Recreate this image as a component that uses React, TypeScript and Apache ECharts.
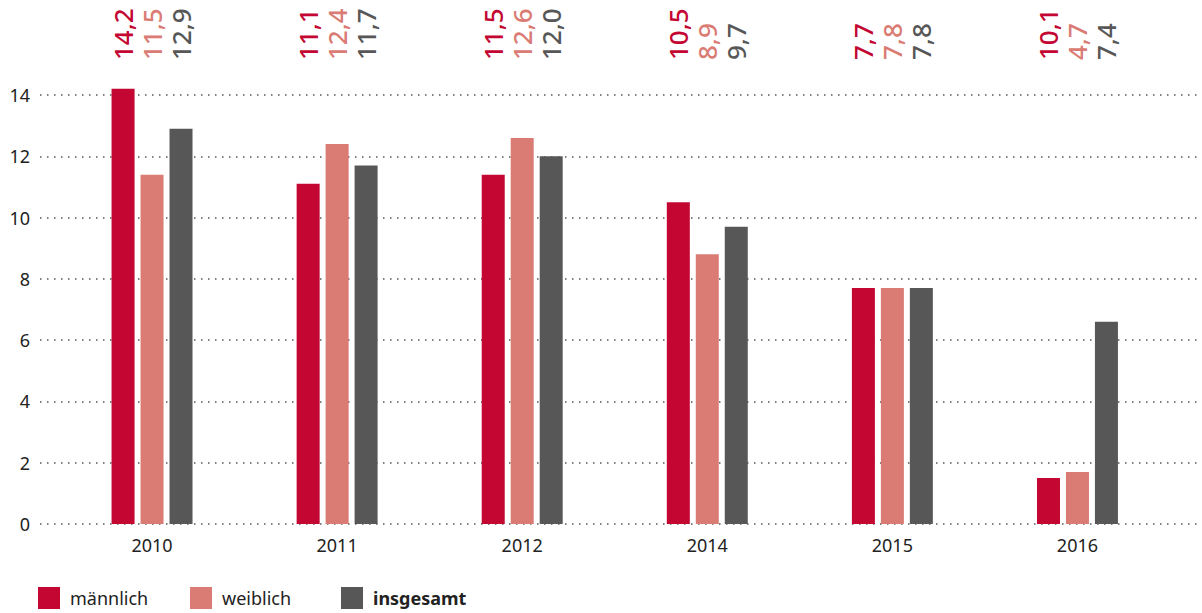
import React, { useEffect, useRef } from "react";
import * as echarts from "echarts";

const categories = ["2010", "2011", "2012", "2014", "2015", "2016"];
const maleValues = [14.2, 11.1, 11.4, 10.5, 7.7, 1.5];
const femaleValues = [11.4, 12.4, 12.6, 8.8, 7.7, 1.7];
const totalValues = [12.9, 11.7, 12.0, 9.7, 7.7, 6.6];
const maleLabels = ["14,2", "11,1", "11,5", "10,5", "7,7", "10,1"];
const femaleLabels = ["11,5", "12,4", "12,6", "8,9", "7,8", "4,7"];
const totalLabels = ["12,9", "11,7", "12,0", "9,7", "7,8", "7,4"];
const seriesNames = ["männlich", "weiblich", "insgesamt"];
const yTicks = { min: 0, max: 14, interval: 2 };

const COLORS = ["#c30632", "#da7b74", "#575757"];
const FONT = "Noto Sans";

export default function App() {
  const ref = useRef<HTMLDivElement>(null);
  useEffect(() => {
    if (!ref.current) return;
    const chart = echarts.init(ref.current, null, { renderer: "svg" });
    const values = [maleValues, femaleValues, totalValues];
    const labels = [maleLabels, femaleLabels, totalLabels];
    const bars = values.map((v, i) => ({
      name: seriesNames[i],
      type: "bar",
      xAxisIndex: 1,
      yAxisIndex: 1,
      data: v,
      barWidth: 23,
      barGap: "26%",
      clip: false,
      itemStyle: { color: COLORS[i] },
    }));
    const tops = labels.map((l, i) => ({
      name: "lbl" + i,
      type: "bar",
      xAxisIndex: 2,
      yAxisIndex: 2,
      data: l.map(() => 1),
      barWidth: 23,
      barGap: "26%",
      itemStyle: { color: "rgba(0,0,0,0)" },
      silent: true,
      label: {
        show: true,
        position: "insideBottom",
        distance: 2,
        rotate: 90,
        align: "left",
        verticalAlign: "middle",
        formatter: (p: any) => l[p.dataIndex],
        color: COLORS[i],
        fontSize: 26,
        fontWeight: 500,
        fontFamily: FONT,
      },
    }));
    const legendLefts = [38, 190, 341];
    chart.setOption({
      animation: false,
      textStyle: { fontFamily: FONT },
      legend: seriesNames.map((n, i) => ({
        left: legendLefts[i],
        top: 587,
        padding: 0,
        icon: "rect",
        itemWidth: 22,
        itemHeight: 22,
        itemGap: 10,
        selectedMode: false,
        data: [n],
        textStyle: {
          fontSize: 18,
          lineHeight: 20,
          padding: [0, 0, 0, 5],
          color: "#222",
          fontFamily: FONT,
          fontWeight: i === 2 ? "bold" : "normal",
        },
      })),
      grid: [
        { left: 40, right: 0, top: 95, bottom: 89 },
        { left: 59.5, right: 32, top: 95, bottom: 89 },
        { left: 59.5, right: 32, top: 0, height: 62 },
      ],
      xAxis: [
        { type: "value", gridIndex: 0, show: false },
        {
          type: "category",
          gridIndex: 1,
          data: categories,
          axisLine: { show: false },
          axisTick: { show: false },
          axisLabel: { fontSize: 18, color: "#222", margin: 12, fontFamily: FONT },
        },
        { type: "category", gridIndex: 2, data: categories, show: false },
      ],
      yAxis: [
        {
          type: "value",
          gridIndex: 0,
          ...yTicks,
          axisLine: { show: false },
          axisTick: { show: false },
          axisLabel: { fontSize: 18, color: "#222", margin: 10, fontFamily: FONT },
          splitLine: {
            show: true,
            lineStyle: { color: "#555", width: 1.5, type: [1.5, 5.5] },
          },
        },
        { type: "value", gridIndex: 1, ...yTicks, show: false },
        { type: "value", gridIndex: 2, min: 0, max: 1, show: false },
      ],
      series: [...bars, ...tops],
    });
    return () => chart.dispose();
  }, []);
  return (
    <div
      ref={ref}
      style={{ position: "fixed", left: 0, top: 0, width: 1202, height: 613, background: "#fff" }}
    />
  );
}
